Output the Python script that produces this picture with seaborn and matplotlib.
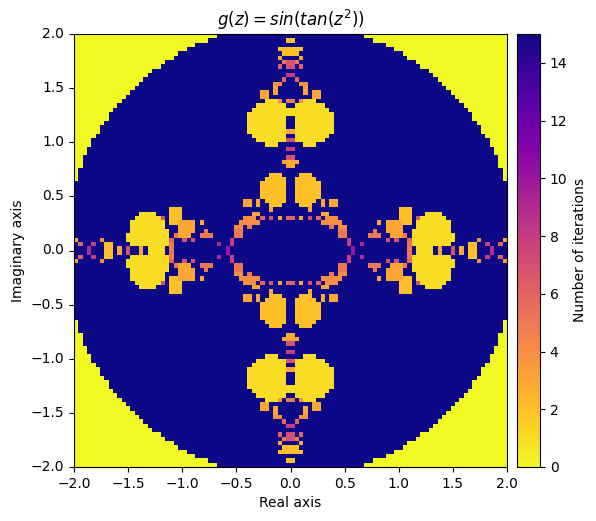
import numpy as np
import seaborn as sns
import matplotlib.pyplot as plt

# Iteration counts for the upper right quadrant (x 0..2, y 2..0).
# One character per cell, '.' = 15, 'a' = 10, digits are the count itself.
quadrant_rows = [
    ".......... .......000 0000000000 0000000000 0000000000",
    "2......... .........0 0000000000 0000000000 0000000000",
    ".......... .......... ..00000000 0000000000 0000000000",
    "222....... .......... ....000000 0000000000 0000000000",
    "22........ .......... ......0000 0000000000 0000000000",
    "..3....... .......... .......000 0000000000 0000000000",
    "75........ .......... .........0 0000000000 0000000000",
    "7.6....... .......... .......... 0000000000 0000000000",
    ".......... .......... .......... ..00000000 0000000000",
    "8......... .......... .......... ...0000000 0000000000",
    ".6........ .......... .......... ....000000 0000000000",
    "..44...... .......... .......... .....00000 0000000000",
    "...3...... .......... .......... ......0000 0000000000",
    "...3.33... .......... .......... .......000 0000000000",
    ".....33... .......... .......... ........00 0000000000",
    "5.4111.... .......... .......... .........0 0000000000",
    ".1111111.. .......... .......... .......... 0000000000",
    "111111111. .......... .......... .......... .000000000",
    "1111111111 .......... .......... .......... ..00000000",
    ".111111111 .......... .......... .......... ..00000000",
    ".111111111 .......... .......... .......... ...0000000",
    ".111111111 .......... .......... .......... ....000000",
    "3111111111 .......... .......... .......... ....000000",
    ".11111111. .......... .......... .......... .....00000",
    "71111111.. .......... .......... .......... ......0000",
    "...111.... .......... .......... .......... ......0000",
    "8......... .......... .......... .......... .......000",
    ".......... .......... .......... .......... .......000",
    "7......... .......... .......... .......... ........00",
    "33........ .......... .......... .......... ........00",
    "3......... .......... .......... .......... ........00",
    ".......... .......... .......... .......... .........0",
    "..222..... .......... .......... .......... .........0",
    ".22222.... .......... .......... .......... .........0",
    ".222222... .......... .......... .......... ..........",
    ".222222... .......... .......... .......... ..........",
    ".222222... .......... .......... .......... ..........",
    ".222222... .......... .......... .......... ..........",
    ".22222.3.3 3......... .......... .......... ..........",
    "..222..3.3 3......... .......... .......... ..........",
    "....3..... .......... .....222.. .......... ..........",
    ".......33. .......... .....222.. .1111..... ..........",
    "6.3.7.6.44 4......... .....222.7 111111.... ..........",
    ".......444 44........ 3.333322.1 1111111... ..........",
    ".........5 .44....... ..3333...1 1111111... ..........",
    ".......... .55......5 ..3333..11 1111111... ..........",
    ".......... .55.....55 5..3335.11 11111111.. ..........",
    ".......... ...8...... ..7.7..611 11111111.. ...4.....3",
    ".......... ...8..9... .......511 1111111... .22..8..6.",
    ".......... ....a..... .......5.1 111.3..7.3 .22...9...",
]
tick_labels = ["-2.0", "-1.5", "-1.0", "-0.5", "0.0", "0.5", "1.0", "1.5", "2.0"]
cbar_ticks = [0, 2, 4, 6, 8, 10, 12, 14]

codes = {".": 15, "a": 10}
quadrant = np.array([[codes.get(ch, ch) for ch in row.replace(" ", "")] for row in quadrant_rows], dtype=float)

# The picture is symmetric about both axes
top = np.hstack([np.fliplr(quadrant), quadrant])
grid = np.vstack([top, np.flipud(top)])

fig = plt.figure(figsize=(5.96, 5.21), dpi=100)
ax = fig.add_axes([74 / 596, 1 - 467 / 521, 433 / 596, 433 / 521])
cax = fig.add_axes([517 / 596, 1 - 467 / 521, 23 / 596, 433 / 521])

sns.heatmap(grid, cmap="plasma_r", vmin=0, vmax=15, square=False, ax=ax, cbar_ax=cax,
            cbar_kws={"label": "Number of iterations", "ticks": cbar_ticks})

tick_pos = np.linspace(0, grid.shape[0], len(tick_labels))
ax.set_xticks(tick_pos)
ax.set_xticklabels([t.replace("-", "\u2212") for t in tick_labels], rotation=0)
ax.set_yticks(tick_pos)
ax.set_yticklabels([t.replace("-", "\u2212") for t in tick_labels[::-1]], rotation=0)
ax.set_xlabel("Real axis")
ax.set_ylabel("Imaginary axis")
ax.set_title(r"$g(z) = sin(tan(z^2))$")
for spine in ax.spines.values():
    spine.set_visible(True)
    spine.set_linewidth(0.8)

cbar = ax.collections[0].colorbar
cbar.outline.set_visible(True)
cbar.outline.set_linewidth(0.8)
cbar.outline.set_edgecolor("black")

fig.savefig("out.png", dpi=100)
